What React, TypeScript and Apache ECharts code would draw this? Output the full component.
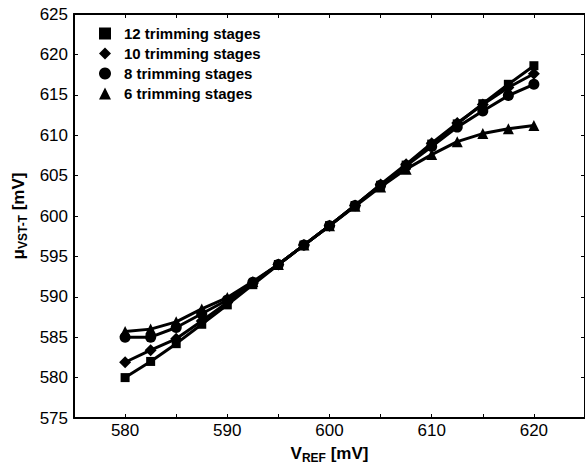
import React, { useEffect, useRef } from "react";
import * as echarts from "echarts";

const vref = [580, 582.5, 585, 587.5, 590, 592.5, 595, 597.5, 600, 602.5, 605, 607.5, 610, 612.5, 615, 617.5, 620];
const stages12 = [580.0, 582.0, 584.2, 586.6, 589.0, 591.5, 594.0, 596.4, 598.8, 601.3, 603.8, 606.3, 608.9, 611.4, 613.9, 616.3, 618.6];
const stages10 = [581.9, 583.4, 584.8, 587.0, 589.3, 591.7, 594.0, 596.4, 598.8, 601.3, 603.9, 606.4, 609.0, 611.5, 613.8, 615.9, 617.6];
const stages8 = [585.0, 585.0, 586.2, 587.9, 589.6, 591.8, 594.0, 596.4, 598.8, 601.3, 603.8, 606.2, 608.6, 611.0, 613.0, 614.9, 616.3];
const stages6 = [585.7, 586.0, 586.9, 588.5, 589.9, 591.9, 594.0, 596.4, 598.8, 601.2, 603.6, 605.8, 607.6, 609.2, 610.2, 610.8, 611.2];
const seriesNames = ["12 trimming stages", "10 trimming stages", "8 trimming stages", "6 trimming stages"];
const seriesSymbols = ["rect", "diamond", "circle", "triangle"];
const seriesValues = [stages12, stages10, stages8, stages6];

const FONT = "Liberation Sans, Arial, sans-serif";

export default function App() {
  const ref = useRef<HTMLDivElement>(null);
  useEffect(() => {
    if (!ref.current) return;
    const chart = echarts.init(ref.current, null, { renderer: "svg" });
    const symbolSizes = [9, 12, 11, 11];
    const axisCommon = {
      axisLine: { show: true, onZero: false, lineStyle: { color: "#000", width: 2 } },
      axisTick: { show: true, inside: true, length: 4, lineStyle: { color: "#000", width: 1 } },
      splitLine: { show: false },
    };
    const titleRich = {
      a: { fontFamily: FONT, fontWeight: "bold", fontSize: 17, color: "#000", lineHeight: 20 },
      b: { fontFamily: FONT, fontWeight: "bold", fontSize: 12, color: "#000", verticalAlign: "bottom", lineHeight: 14, padding: [8, 0, 0, 0] },
    };
    chart.setOption({
      animation: false,
      backgroundColor: "#fff",
      grid: { left: 74, right: 0, top: 14, bottom: 48, containLabel: false, outerBoundsMode: "none" },
      legend: {
        orient: "vertical",
        left: 94,
        top: 21,
        itemWidth: 12,
        itemHeight: 12,
        itemGap: 5,
        textStyle: { fontFamily: FONT, fontWeight: "bold", fontSize: 15, lineHeight: 15, color: "#000", padding: [0, 0, 0, 8] },
        data: seriesNames.map((n, i) => ({ name: n, icon: seriesSymbols[i] })),
      },
      xAxis: [
        {
          type: "value",
          min: 575,
          max: 625,
          interval: 5,
          position: "bottom",
          ...axisCommon,
          axisLabel: {
            color: "#000",
            fontFamily: FONT,
            fontSize: 17,
            margin: 4,
            formatter: (v: number) => (v % 10 === 0 && v > 575 && v < 625 ? String(v) : ""),
          },
          name: "{a|V}{b|REF}{a| [mV]}",
          nameLocation: "middle",
          nameGap: 25,
          nameTextStyle: { rich: titleRich },
        },
        {
          type: "value",
          min: 575,
          max: 625,
          interval: 5,
          position: "top",
          ...axisCommon,
          axisLabel: { show: false },
        },
      ],
      yAxis: [
        {
          type: "value",
          min: 575,
          max: 625,
          interval: 5,
          position: "left",
          ...axisCommon,
          axisLabel: { color: "#000", fontFamily: FONT, fontSize: 17, margin: 6 },
          name: "{a|μ}{b|VST-T}{a| [mV]}",
          nameLocation: "middle",
          nameRotate: 90,
          nameGap: 44,
          nameTextStyle: { rich: titleRich },
        },
        {
          type: "value",
          min: 575,
          max: 625,
          interval: 5,
          position: "right",
          ...axisCommon,
          axisLabel: { show: false },
        },
      ],
      series: seriesNames.map((name, i) => ({
        name,
        type: "line",
        xAxisIndex: 0,
        yAxisIndex: 0,
        symbol: seriesSymbols[i],
        symbolSize: symbolSizes[i],
        showAllSymbol: true,
        itemStyle: { color: "#000" },
        lineStyle: { color: "#000", width: 3 },
        data: vref.map((x, j) => [x, seriesValues[i][j]]),
      })),
    });
    return () => chart.dispose();
  }, []);
  return <div ref={ref} style={{ width: 585, height: 466, position: "absolute", left: 0, top: 0 }} />;
}
